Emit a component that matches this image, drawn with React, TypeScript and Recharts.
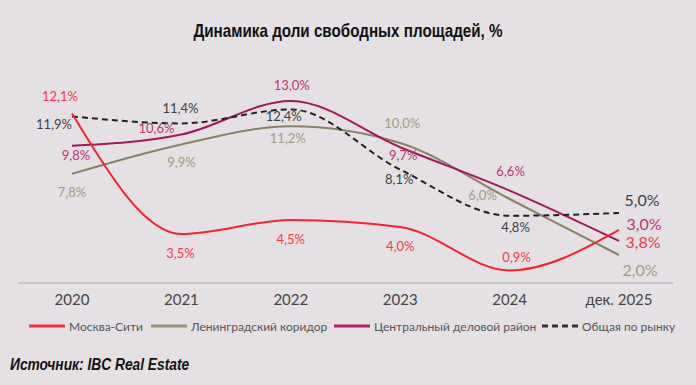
import { LineChart, Line, XAxis, YAxis, LabelList } from 'recharts';

// Доля свободных площадей, %
const years = ['2020', '2021', '2022', '2023', '2024', 'дек. 2025'];
const moscowCity = [12.1, 3.5, 4.5, 4.0, 0.9, 3.8];
const leningrad = [7.8, 9.9, 11.2, 10.0, 6.0, 2.0];
const cbd = [9.8, 10.6, 13.0, 9.7, 6.6, 3.0];
const market = [11.9, 11.4, 12.4, 8.1, 4.8, 5.0];

const data = years.map((year, i) => ({
  year,
  moscowCity: moscowCity[i],
  leningrad: leningrad[i],
  cbd: cbd[i],
  market: market[i],
}));

// label offsets from the point, [dx, dy]
const moscowLabelPos = [[-12, -18], [-1, 19], [0, 19], [0, 19], [7, -13], [24, 12]];
const leningradLabelPos = [[0, 18], [0, 18], [-3, 12], [2, -20], [-27, -4], [21, 14]];
const cbdLabelPos = [[4, 9], [-25, -7], [1, -16], [3, 8], [1, -20], [25, -18]];
const marketLabelPos = [[-18, 8], [-1, -15], [-7, 7], [-1, 9], [6, 11], [23, -14]];

const LABEL_FONT = 'Lato, "Open Sans", sans-serif';
const HEAD_FONT = '"Liberation Sans", Arial, sans-serif';

const fmt = (v: number) => v.toFixed(1).replace('.', ',') + '%';

const makeLabel = (pos: number[][], color: string) => (props: any) => {
  const { x, y, value, index } = props;
  const [dx, dy] = pos[index] ?? [0, 0];
  const last = index === years.length - 1;
  return (
    <text
      x={x + dx}
      y={y + dy}
      fill={color}
      fontSize={last ? 16 : 13}
      fontFamily={LABEL_FONT}
      textAnchor="middle"
      dominantBaseline="central"
    >
      {fmt(value)}
    </text>
  );
};

const legendItems = [
  { name: 'Москва-Сити', color: '#ef3340', dashed: false, left: 29 },
  { name: 'Ленинградский коридор', color: '#9a9076', dashed: false, left: 151 },
  { name: 'Центральный деловой район', color: '#b0246a', dashed: false, left: 334 },
  { name: 'Общая по рынку', color: '#333333', dashed: true, left: 542 },
];

function LegendRow() {
  return (
    <>
      {legendItems.map((it) => (
        <div
          key={it.name}
          style={{
            position: 'absolute',
            top: 317,
            left: it.left,
            height: 18,
            display: 'flex',
            alignItems: 'center',
            whiteSpace: 'nowrap',
            fontFamily: LABEL_FONT,
            fontSize: 12,
            color: '#555',
          }}
        >
          <svg width={36} height={4} style={{ marginRight: 4 }}>
            <line
              x1={0}
              y1={2}
              x2={36}
              y2={2}
              stroke={it.color}
              strokeWidth={3}
              strokeDasharray={it.dashed ? '6 4' : undefined}
            />
          </svg>
          <span>{it.name}</span>
        </div>
      ))}
    </>
  );
}

export default function App() {
  return (
    <div
      style={{
        position: 'fixed',
        left: 0,
        top: 0,
        width: 696,
        height: 385,
        background: '#e5e0e3',
        overflow: 'hidden',
      }}
    >
      <div
        style={{
          position: 'absolute',
          top: 20,
          left: 0,
          width: 696,
          textAlign: 'center',
          fontFamily: HEAD_FONT,
          fontWeight: 700,
          fontSize: 19,
          color: '#111',
          transform: 'scaleX(0.8)',
          transformOrigin: '348px 0',
        }}
      >
        Динамика доли свободных площадей, %
      </div>

      <LineChart
        width={696}
        height={385}
        data={data}
        margin={{ top: 59, right: 23, left: 18, bottom: 72 }}
      >
        <XAxis
          dataKey="year"
          height={30}
          padding={{ left: 54, right: 54 }}
          tickLine={false}
          tickMargin={5}
          axisLine={{ stroke: '#bdb8bb', strokeWidth: 1.5 }}
          tick={{ fontSize: 15, fill: '#444', fontFamily: LABEL_FONT }}
        />
        <YAxis hide domain={[0, 16]} />
        <Line
          type="monotone"
          dataKey="leningrad"
          stroke="#8a8266"
          strokeWidth={2}
          dot={false}
          isAnimationActive={false}
        >
          <LabelList dataKey="leningrad" content={makeLabel(leningradLabelPos, '#a19b82')} />
        </Line>
        <Line
          type="monotone"
          dataKey="cbd"
          stroke="#a3185c"
          strokeWidth={2}
          dot={false}
          isAnimationActive={false}
        >
          <LabelList dataKey="cbd" content={makeLabel(cbdLabelPos, '#bb3572')} />
        </Line>
        <Line
          type="monotone"
          dataKey="market"
          stroke="#222"
          strokeWidth={2}
          strokeDasharray="6 4"
          dot={false}
          isAnimationActive={false}
        >
          <LabelList dataKey="market" content={makeLabel(marketLabelPos, '#3f3f3f')} />
        </Line>
        <Line
          type="monotone"
          dataKey="moscowCity"
          stroke="#f2232f"
          strokeWidth={2}
          dot={false}
          isAnimationActive={false}
        >
          <LabelList dataKey="moscowCity" content={makeLabel(moscowLabelPos, '#f03a48')} />
        </Line>
      </LineChart>

      <LegendRow />

      <div
        style={{
          position: 'absolute',
          top: 356,
          left: 10,
          fontFamily: HEAD_FONT,
          fontWeight: 700,
          fontStyle: 'italic',
          fontSize: 16,
          color: '#111',
          whiteSpace: 'nowrap',
          transform: 'scaleX(0.86)',
          transformOrigin: '0 0',
        }}
      >
        Источник: IBC Real Estate
      </div>
    </div>
  );
}
